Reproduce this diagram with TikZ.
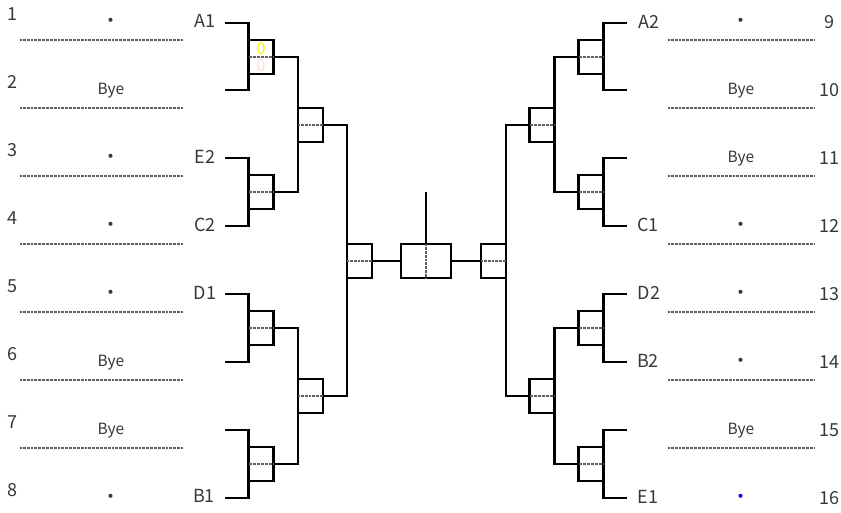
\documentclass[tikz,border=0pt]{standalone}
\usepackage{fontspec}
\setmainfont{Noto Sans CJK JP}
\definecolor{txtc}{RGB}{55,55,55}
\definecolor{dotgray}{RGB}{95,95,95}
\definecolor{pinkz}{RGB}{251,226,213}
\begin{document}
\begin{tikzpicture}[x=1pt,y=-1pt,
  bline/.style={line width=2.5pt, line join=miter},
  mbox/.style={draw, line width=2.5pt, fill=white, minimum width=25pt, minimum height=34pt, inner sep=0pt, outer sep=0pt},
  fbox/.style={mbox, minimum width=50pt},
  midl/.style={draw=dotgray, line width=1.4pt, dash pattern=on 1pt off 0.35pt},
  entryline/.style={draw=dotgray, line width=1.4pt, dash pattern=on 1pt off 0.35pt},
  numtxt/.style={font=\fontsize{18}{18}\selectfont, text=txtc, inner sep=0pt},
  entrytxt/.style={font=\fontsize{15.5}{15.5}\selectfont, text=txtc, inner sep=0pt},
  dottxt/.style={font=\fontsize{19}{19}\selectfont, text=txtc, inner sep=0pt},
  zerotxt/.style={font=\fontsize{16.5}{16.5}\selectfont, inner sep=0pt}
]
\useasboundingbox (0,0) rectangle (841,513);

% ---------- bracket end coordinates ----------
\foreach \i/\y in {1/23,2/90,3/158,4/226,5/294,6/362,7/430,8/498}{
  \coordinate (lp\i) at (225,\y);
  \coordinate (rp\i) at (627,\y);
}
\coordinate (ftop) at (426,192);

% ---------- boxes (positions) ----------
\path
  (261,57)  coordinate (cL1a) (261,192) coordinate (cL1b)
  (261,328) coordinate (cL1c) (261,464) coordinate (cL1d)
  (310.5,125) coordinate (cL2a) (310.5,396) coordinate (cL2b)
  (359.5,261) coordinate (cLS)
  (426,261) coordinate (cF)
  (493.5,261) coordinate (cRS)
  (542,125) coordinate (cR2a) (542,396) coordinate (cR2b)
  (591,57)  coordinate (cR1a) (591,192) coordinate (cR1b)
  (591,328) coordinate (cR1c) (591,464) coordinate (cR1d);

\foreach \n in {L1a,L1b,L1c,L1d,L2a,L2b,LS,RS,R2a,R2b,R1a,R1b,R1c,R1d}{
  \path (c\n) node[mbox, draw=none, fill=none] (\n) {};
}
\path (cF) node[fbox, draw=none, fill=none] (F) {};

% ---------- connectors ----------
\draw[bline] (lp1) -| (L1a.west);
\draw[bline] (lp2) -| (L1a.west);
\draw[bline] (lp3) -| (L1b.west);
\draw[bline] (lp4) -| (L1b.west);
\draw[bline] (lp5) -| (L1c.west);
\draw[bline] (lp6) -| (L1c.west);
\draw[bline] (lp7) -| (L1d.west);
\draw[bline] (lp8) -| (L1d.west);
\draw[bline] (L1a.east) -| (L2a.west);
\draw[bline] (L1b.east) -| (L2a.west);
\draw[bline] (L1c.east) -| (L2b.west);
\draw[bline] (L1d.east) -| (L2b.west);
\draw[bline] (L2a.east) -| (LS.west);
\draw[bline] (L2b.east) -| (LS.west);
\draw[bline] (LS.east) -- (F.west);

\draw[bline] (rp1) -| (R1a.east);
\draw[bline] (rp2) -| (R1a.east);
\draw[bline] (rp3) -| (R1b.east);
\draw[bline] (rp4) -| (R1b.east);
\draw[bline] (rp5) -| (R1c.east);
\draw[bline] (rp6) -| (R1c.east);
\draw[bline] (rp7) -| (R1d.east);
\draw[bline] (rp8) -| (R1d.east);
\draw[bline] (R1a.west) -| (R2a.east);
\draw[bline] (R1b.west) -| (R2a.east);
\draw[bline] (R1c.west) -| (R2b.east);
\draw[bline] (R1d.west) -| (R2b.east);
\draw[bline] (R2a.west) -| (RS.east);
\draw[bline] (R2b.west) -| (RS.east);
\draw[bline] (RS.west) -- (F.east);
\draw[bline] (ftop) -- (F.north);

% ---------- boxes drawn ----------
\foreach \n in {L1a,L1b,L1c,L1d,L2a,L2b,LS,RS,R2a,R2b,R1a,R1b,R1c,R1d}{
  \path (c\n) node[mbox] (b\n) {};
  \draw[midl] (b\n.west) -- (b\n.east);
}
\path (cF) node[fbox] (bF) {};
\draw[midl] (bF.north) -- (bF.south);

% ---------- scores in first box ----------
\node[zerotxt, text=yellow] (z1) at (261,48.5) {0};
\node[zerotxt, text=pinkz] (z2) at (261,65.5) {0};

% ---------- round-1 labels ----------
\node[numtxt] (lA1) at (205,21) {A1};
\node[numtxt] (lE2) at (205,157) {E2};
\node[numtxt] (lC2) at (205,225) {C2};
\node[numtxt] (lD1) at (205,293) {D1};
\node[numtxt] (lB1) at (204,496) {B1};
\node[numtxt] (lA2) at (649,22) {A2};
\node[numtxt] (lC1) at (648,225) {C1};
\node[numtxt] (lD2) at (649,293) {D2};
\node[numtxt] (lB2) at (648,361) {B2};
\node[numtxt] (lE1) at (648,497) {E1};

% ---------- seed numbers ----------
\foreach \k in {1,...,8}{
  \node[numtxt] (n\k) at (12,{14+68*(\k-1)}) {\k};
}
\foreach \k in {9,...,16}{
  \node[numtxt] (n\k) at (829,{22+68*(\k-9)}) {\k};
}

% ---------- entries ----------
\foreach \k in {2,6,7}{
  \node[entrytxt] (e\k) at (111,{91+68*(\k-2)}) {Bye};
}
\foreach \k in {1,3,4,5,8}{
  \node[dottxt] (e\k) at (111,{91+68*(\k-2)}) {・};
}
\foreach \k in {10,11,15}{
  \node[entrytxt] (e\k) at (741,{91+68*(\k-10)}) {Bye};
}
\foreach \k in {9,12,13,14}{
  \node[dottxt] (e\k) at (741,{91+68*(\k-10)}) {・};
}
\node[dottxt, text=blue] (e16) at (741,499) {・};

% ---------- entry lines ----------
\foreach \k in {0,...,6}{
  \draw[entryline] (20,{40+68*\k}) -- (183,{40+68*\k});
  \draw[entryline] (668,{40+68*\k}) -- (814,{40+68*\k});
}
\end{tikzpicture}
\end{document}
